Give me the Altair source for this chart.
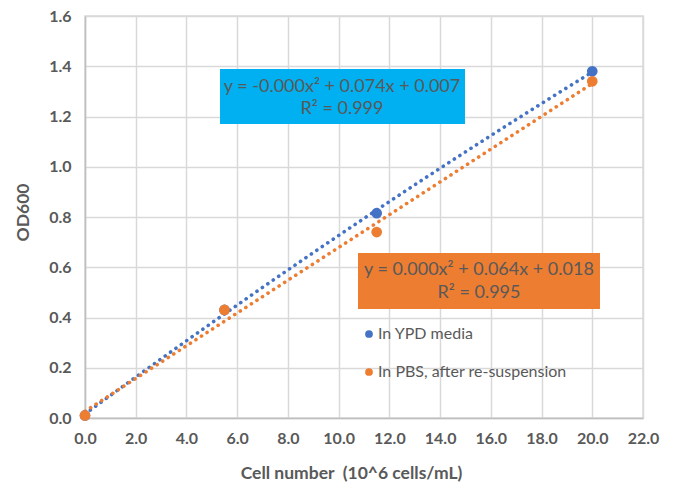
import altair as alt
import pandas as pd

series_names = ["In YPD media", "In PBS, after re-suspension"]
colors = ["#4472C4", "#ED7D31"]
cells_ypd = [0.0, 5.5, 11.5, 20.0]
od_ypd = [0.01, 0.43, 0.815, 1.38]
cells_pbs = [0.0, 5.5, 11.5, 20.0]
od_pbs = [0.01, 0.43, 0.74, 1.34]
eq_ypd = ["y = -0.000x² + 0.074x + 0.007", "R² = 0.999"]
eq_pbs = ["y = 0.000x² + 0.064x + 0.018", "R² = 0.995"]

rows = [{"cells": c, "od": o, "series": series_names[0]} for c, o in zip(cells_ypd, od_ypd)]
rows += [{"cells": c, "od": o, "series": series_names[1]} for c, o in zip(cells_pbs, od_pbs)]
df = pd.DataFrame(rows)

FONT = "Lato"
TXT = "#595959"

xs = alt.Scale(domain=[0, 22], nice=False)
ys = alt.Scale(domain=[0, 1.6], nice=False)
cs = alt.Scale(domain=series_names, range=colors)
leg = alt.Legend(title=None, orient="none", legendX=276, legendY=310,
                 symbolType="circle", symbolSize=60, labelFontSize=16,
                 labelFont=FONT, labelColor=TXT, rowPadding=22, labelLimit=400,
                 symbolStrokeWidth=0, labelOffset=1)

base = alt.Chart(df)

trend = base.transform_regression(
    "cells", "od", method="poly", order=2, groupby=["series"], extent=[0, 20]
).mark_line(strokeDash=[0.1, 6.5], strokeCap="round", strokeWidth=3.6, interpolate="monotone").encode(
    x=alt.X("cells:Q", scale=xs),
    y=alt.Y("od:Q", scale=ys),
    color=alt.Color("series:N", scale=cs, sort=series_names, legend=leg),
)

points = base.mark_circle(size=115, opacity=1).encode(
    x=alt.X("cells:Q", scale=xs,
            axis=alt.Axis(values=list(range(0, 23, 2)), format=".1f", title="Cell number\u00a0 (10^6 cells/mL)",
                          grid=True, titlePadding=18, labelPadding=12, labelFlush=False, labelOverlap=False,
                          titleX=266)),
    y=alt.Y("od:Q", scale=ys,
            axis=alt.Axis(values=[i / 10 for i in range(0, 17, 2)], format=".1f", title="OD600",
                          grid=True, titlePadding=16, labelPadding=14, labelFlush=False, labelOverlap=False,
                          titleY=196)),
    color=alt.Color("series:N", scale=cs, sort=series_names, legend=leg),
    order=alt.Order("series:N", sort="descending"),
)

one = pd.DataFrame({"k": [0]})
box1 = alt.Chart(one).mark_rect(color="#00B0F0").encode(
    x=alt.value(135), x2=alt.value(380), y=alt.value(53), y2=alt.value(108))
box2 = alt.Chart(one).mark_rect(color="#ED7D31").encode(
    x=alt.value(273), x2=alt.value(515), y=alt.value(237), y2=alt.value(293))

def txt(s, x, y):
    return alt.Chart(one).mark_text(font=FONT, fontSize=18, color=TXT, align="center", baseline="middle",
                                    text=s).encode(x=alt.value(x), y=alt.value(y))

texts = [txt(eq_ypd[0], 257, 71), txt(eq_ypd[1], 257, 93),
         txt(eq_pbs[0], 394, 254), txt(eq_pbs[1], 394, 277)]

chart = alt.layer(trend, points, box1, box2, *texts).properties(
    width=558, height=402,
    autosize=alt.AutoSizeParams(type="none"),
    padding={"left": 85, "top": 16, "right": 34, "bottom": 76},
    background="white",
).configure_axis(
    labelFont=FONT, labelFontWeight="bold", labelFontSize=16, labelColor=TXT,
    titleFont=FONT, titleFontWeight="bold", titleFontSize=17.5, titleColor=TXT,
    domainColor="#bfbfbf", domainWidth=1.5, gridColor="#d9d9d9", gridWidth=1.5,
    ticks=False,
).configure_view(stroke="#d9d9d9", strokeWidth=1.5)

chart.save("out.html", embed_options={"renderer": "svg", "actions": False})
